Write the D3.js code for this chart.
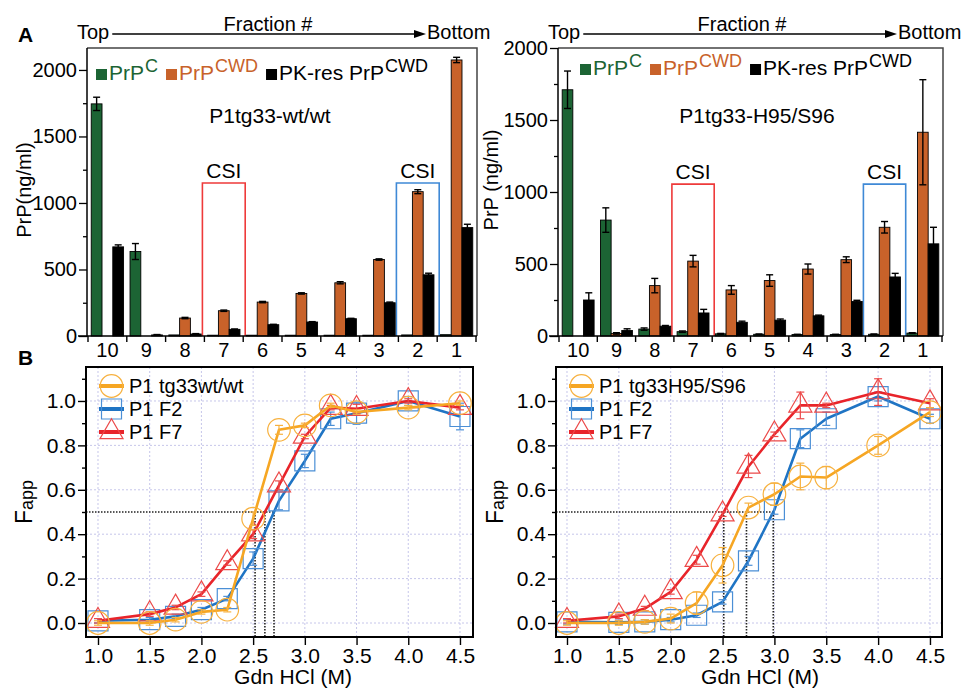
<!DOCTYPE html>
<html>
<head>
<meta charset="utf-8">
<script src="https://cdn.jsdelivr.net/npm/d3@7"></script>
<style>
  body { margin: 0; background: #fff; }
  svg { display: block; font-family: "Liberation Sans", Arial, Helvetica, sans-serif; }
</style>
</head>
<body>
<svg id="fig" width="964" height="688"></svg>
<script>
// ---- Panel A data (PrP ng/ml per fraction, top -> bottom) ----
const fractions = ["10", "9", "8", "7", "6", "5", "4", "3", "2", "1"];
const barTicks = [0, 500, 1000, 1500, 2000];
const barMinorTicks = [250, 750, 1250, 1750];

const wtPrPC      = [1745, 635, 8, 6, 6, 6, 6, 6, 8, 10];
const wtPrPCWD    = [0, 0, 135, 190, 255, 320, 400, 575, 1085, 2075];
const wtPKres     = [670, 8, 15, 50, 85, 105, 130, 250, 460, 815];
const wtPrPCErr   = [50, 60, 0, 0, 0, 0, 0, 0, 0, 0];
const wtPrPCWDErr = [0, 0, 5, 5, 5, 5, 8, 5, 15, 20];
const wtPKresErr  = [15, 3, 3, 3, 3, 3, 3, 5, 12, 25];

const hsPrPC      = [1710, 805, 48, 30, 15, 12, 10, 10, 12, 20];
const hsPrPCWD    = [0, 18, 350, 520, 320, 385, 465, 530, 755, 1415];
const hsPKres     = [250, 38, 68, 160, 95, 110, 140, 240, 410, 640];
const hsPrPCErr   = [130, 85, 8, 5, 3, 2, 2, 2, 2, 3];
const hsPrPCWDErr = [0, 5, 50, 40, 30, 40, 35, 20, 40, 365];
const hsPKresErr  = [50, 12, 5, 25, 8, 8, 5, 8, 25, 115];

const csiFractions = ["7", "2"];

// ---- Panel B data (Fapp vs GdnHCl) ----
const gdn = [1.0, 1.5, 1.75, 2.0, 2.25, 2.5, 2.75, 3.0, 3.25, 3.5, 4.0, 4.5];
const gdnTicks = [1.0, 1.5, 2.0, 2.5, 3.0, 3.5, 4.0, 4.5];
const fappTicks = [0, 0.2, 0.4, 0.6, 0.8, 1.0];
const fappMinorTicks = [0.1, 0.3, 0.5, 0.7, 0.9, 1.1];

const wtFapp     = [0.0, 0.0, 0.015, 0.05, 0.06, 0.47, 0.87, 0.89, 0.98, 0.95, 0.97, 0.99];
const wtF2Fapp   = [0.01, 0.015, 0.03, 0.06, 0.11, 0.29, 0.55, 0.73, 0.92, 0.945, 1.0, 0.93];
const wtF7Fapp   = [0.01, 0.04, 0.07, 0.13, 0.27, 0.40, 0.62, 0.84, 0.97, 0.965, 1.0, 0.97];
const wtFappErr  = [0.01, 0.01, 0.01, 0.01, 0.01, 0.03, 0.02, 0.01, 0.01, 0.01, 0.01, 0.01];
const wtF2Err    = [0.01, 0.01, 0.01, 0.01, 0.01, 0.03, 0.04, 0.03, 0.03, 0.05, 0.02, 0.06];
const wtF7Err    = [0.01, 0.01, 0.01, 0.01, 0.01, 0.02, 0.02, 0.01, 0.01, 0.02, 0.01, 0.01];

const hsFapp     = [0.0, 0.0, 0.005, 0.02, 0.09, 0.26, 0.52, 0.58, 0.66, 0.655, 0.80, 0.95];
const hsF2Fapp   = [0.005, 0.003, 0.005, 0.015, 0.035, 0.095, 0.28, 0.51, 0.83, 0.92, 1.02, 0.92];
const hsF7Fapp   = [0.01, 0.03, 0.065, 0.14, 0.285, 0.49, 0.705, 0.85, 0.98, 0.98, 1.04, 0.99];
const hsFappErr  = [0.01, 0.01, 0.01, 0.02, 0.05, 0.08, 0.02, 0.05, 0.06, 0.05, 0.04, 0.02];
const hsF2Err    = [0.01, 0.01, 0.01, 0.01, 0.01, 0.01, 0.02, 0.02, 0.04, 0.03, 0.02, 0.02];
const hsF7Err    = [0.01, 0.01, 0.01, 0.01, 0.02, 0.01, 0.05, 0.01, 0.06, 0.01, 0.06, 0.02];

// colours
const green = "#1c6434", orange = "#c8622a";
const csiColors = ["#ee3a3a", "#3f89d6"];
const lineColors = { wt: "#f6a623", f2: "#1f74c4", f7: "#e8242a" };
const markColors = { wt: "#f7b13f", f2: "#4b8fd6", f7: "#ec4a4a" };

const svg = d3.select("#fig");

// ---------- header with arrow ----------
function header(xTop, xBottom, xCenter) {
    const g = svg.append("g").attr("font-size", 20);
    const t = g.append("text").attr("x", xTop).attr("y", 39).text("Top");
    const x1 = xTop + t.node().getComputedTextLength() + 3;
    g.append("text").attr("x", xBottom).attr("y", 39).text("Bottom");
    g.append("line").attr("x1", x1).attr("x2", xBottom - 10).attr("y1", 34).attr("y2", 34)
        .attr("stroke", "#000").attr("stroke-width", 1.6);
    g.append("path").attr("d", `M${xBottom - 1},34 L${xBottom - 13},30 L${xBottom - 13},38 Z`).attr("fill", "#000");
    g.append("text").attr("x", xCenter).attr("y", 31).attr("text-anchor", "middle").text("Fraction #");
}

// ---------- bar panel ----------
function barPanel(cfg) {
    const g = svg.append("g");
    const x = d3.scaleBand().domain(fractions).range([cfg.x0 + 1, cfg.x1 - 1]).padding(0);
    const keys = ["c", "cwd", "pk"];
    const sub = d3.scaleBand().domain(keys).range([0, x.bandwidth()]).paddingInner(0).paddingOuter(0.3);
    const y = d3.scaleLinear().domain([0, cfg.yMax]).range([cfg.yBot, cfg.yTop]);

    // frame
    g.append("path").attr("d", `M${cfg.x0},${cfg.yTop} H${cfg.x1} V${cfg.yBot}`)
        .attr("fill", "none").attr("stroke", "#444").attr("stroke-width", 1.5);

    // CSI boxes
    csiFractions.forEach((f, i) => {
        const bx0 = x(f) - 2, bx1 = x(f) + x.bandwidth() + 2, top = y(cfg.csiTop);
        g.append("path").attr("d", `M${bx0},${cfg.yBot} V${top} H${bx1} V${cfg.yBot}`)
            .attr("fill", "none").attr("stroke", csiColors[i]).attr("stroke-width", 1.6);
        g.append("text").attr("x", (bx0 + bx1) / 2).attr("y", top - 5).attr("text-anchor", "middle")
            .attr("font-size", 21).text("CSI");
    });

    const series = [
        { key: "c", vals: cfg.c, err: cfg.cErr, color: green },
        { key: "cwd", vals: cfg.cwd, err: cfg.cwdErr, color: orange },
        { key: "pk", vals: cfg.pk, err: cfg.pkErr, color: "#000" }
    ];
    series.forEach(s => {
        const rows = fractions.map((f, i) => ({ f, v: s.vals[i], e: s.err[i] }));
        g.append("g").selectAll("rect").data(rows.filter(d => d.v > 0)).enter().append("rect")
            .attr("x", d => x(d.f) + sub(s.key))
            .attr("y", d => y(d.v))
            .attr("width", sub.bandwidth())
            .attr("height", d => Math.max(0, y(0) - y(d.v)))
            .attr("fill", s.color).attr("stroke", "#000").attr("stroke-width", 0.9);
        const eb = g.append("g").attr("stroke", "#000").attr("stroke-width", 1.4);
        rows.filter(d => d.e > 0).forEach(d => {
            const cx = x(d.f) + sub(s.key) + sub.bandwidth() / 2;
            eb.append("line").attr("x1", cx).attr("x2", cx).attr("y1", y(d.v + d.e)).attr("y2", y(Math.max(0, d.v - d.e)));
            eb.append("line").attr("x1", cx - 3.5).attr("x2", cx + 3.5).attr("y1", y(d.v + d.e)).attr("y2", y(d.v + d.e));
            eb.append("line").attr("x1", cx - 3.5).attr("x2", cx + 3.5).attr("y1", y(Math.max(0, d.v - d.e))).attr("y2", y(Math.max(0, d.v - d.e)));
        });
    });

    // y axis
    const ya = g.append("g").attr("transform", `translate(${cfg.x0},0)`)
        .call(d3.axisLeft(y).tickValues(barTicks).tickSize(8).tickPadding(2).tickFormat(d3.format("d")));
    ya.select(".domain").remove();
    ya.selectAll("text").attr("font-size", 20).attr("font-family", null).attr("fill", "#000");
    ya.selectAll("line").attr("stroke-width", 1.3);
    const ym = g.append("g").attr("transform", `translate(${cfg.x0},0)`)
        .call(d3.axisLeft(y).tickValues(barMinorTicks).tickSize(4).tickFormat(""));
    ym.select(".domain").remove();
    ym.selectAll("line").attr("stroke-width", 1.3);
    g.append("line").attr("x1", cfg.x0).attr("x2", cfg.x0).attr("y1", cfg.yTop).attr("y2", cfg.yBot + 1)
        .attr("stroke", "#000").attr("stroke-width", 1.5);

    // x axis (labels centred in bands, ticks at band edges)
    const xa = g.append("g").attr("transform", `translate(0,${cfg.yBot})`)
        .call(d3.axisBottom(x).tickSize(0).tickPadding(7));
    xa.select(".domain").remove();
    xa.selectAll("text").attr("font-size", 20).attr("font-family", null).attr("fill", "#000");
    g.append("line").attr("x1", cfg.x0 - 9).attr("x2", cfg.x1).attr("y1", cfg.yBot).attr("y2", cfg.yBot)
        .attr("stroke", "#000").attr("stroke-width", 1.5);
    const edges = fractions.map(f => x(f)).concat([x(fractions[fractions.length - 1]) + x.bandwidth()]);
    g.append("g").selectAll("line").data(edges).enter().append("line")
        .attr("x1", d => d).attr("x2", d => d).attr("y1", cfg.yBot).attr("y2", cfg.yBot + 6)
        .attr("stroke", "#000").attr("stroke-width", 1.4);

    // y label
    g.append("text").attr("transform", `translate(${cfg.ylabelX},${cfg.ylabelY}) rotate(-90)`)
        .attr("text-anchor", "middle").attr("font-size", 20).text(cfg.ylabel);

    // title
    g.append("text").attr("x", cfg.titleX).attr("y", 123).attr("text-anchor", "middle")
        .attr("font-size", 21).text(cfg.title);

    // legend
    const items = [
        { color: green, main: "PrP", sup: "C" },
        { color: orange, main: "PrP", sup: "CWD" },
        { color: "#000", main: "PK-res PrP", sup: "CWD" }
    ];
    let cx = cfg.legendX;
    const ly = cfg.legendY;
    items.forEach(it => {
        g.append("rect").attr("x", cx).attr("y", ly - 11).attr("width", 11).attr("height", 11).attr("fill", it.color);
        cx += 13;
        const t = g.append("text").attr("x", cx).attr("y", ly).attr("font-size", 21).attr("fill", it.color).text(it.main);
        cx += t.node().getComputedTextLength() + 1;
        const s = g.append("text").attr("x", cx).attr("y", ly - 8).attr("font-size", 18).attr("fill", it.color).text(it.sup);
        cx += s.node().getComputedTextLength() + 8;
    });
}

// ---------- Fapp panel ----------
function crossing(xs, vs, level) {
    for (let i = 0; i < vs.length - 1; i++) {
        if (vs[i] < level && vs[i + 1] >= level) {
            return xs[i] + (xs[i + 1] - xs[i]) * (level - vs[i]) / (vs[i + 1] - vs[i]);
        }
    }
    return null;
}

function fappPanel(cfg) {
    const g = svg.append("g");
    const x = d3.scaleLinear().domain(cfg.xDom).range([cfg.x0, cfg.x1]);
    const y = d3.scaleLinear().domain([-0.063, 1.153]).range([cfg.yBot, cfg.yTop]);

    // grid
    const grid = g.append("g").attr("stroke", "#c6c6ea").attr("stroke-width", 1).attr("stroke-dasharray", "2,2");
    gdnTicks.forEach(t => grid.append("line").attr("x1", x(t)).attr("x2", x(t)).attr("y1", cfg.yTop).attr("y2", cfg.yBot));
    fappTicks.forEach(t => grid.append("line").attr("x1", cfg.x0).attr("x2", cfg.x1).attr("y1", y(t)).attr("y2", y(t)));

    const series = [
        { key: "f2", vals: cfg.f2, err: cfg.f2Err, sym: d3.symbolSquare, size: 400, name: "P1 F2" },
        { key: "f7", vals: cfg.f7, err: cfg.f7Err, sym: d3.symbolTriangle, size: 230, name: "P1 F7" },
        { key: "wt", vals: cfg.wt, err: cfg.wtErr, sym: d3.symbolCircle, size: 400, name: cfg.wtName }
    ];

    // 0.5 crossing guides
    const xs = series.map(s => crossing(gdn, s.vals, 0.5)).filter(v => v !== null);
    const guide = g.append("g").attr("stroke", "#222").attr("stroke-width", 1.6).attr("stroke-dasharray", "1.5,1.5");
    guide.append("line").attr("x1", cfg.x0).attr("x2", x(d3.max(xs))).attr("y1", y(0.5)).attr("y2", y(0.5));
    xs.forEach(v => guide.append("line").attr("x1", x(v)).attr("x2", x(v)).attr("y1", y(0.5)).attr("y2", cfg.yBot));

    const line = d3.line().x((d, i) => x(gdn[i])).y(d => y(d));
    series.forEach(s => {
        g.append("path").datum(s.vals).attr("d", line).attr("fill", "none")
            .attr("stroke", lineColors[s.key]).attr("stroke-width", 2.6).attr("stroke-linejoin", "round");
        const eb = g.append("g").attr("stroke", markColors[s.key]).attr("stroke-width", 1.2);
        s.vals.forEach((v, i) => {
            const cx = x(gdn[i]), e = s.err[i];
            eb.append("line").attr("x1", cx).attr("x2", cx).attr("y1", y(v + e)).attr("y2", y(v - e));
            eb.append("line").attr("x1", cx - 4).attr("x2", cx + 4).attr("y1", y(v + e)).attr("y2", y(v + e));
            eb.append("line").attr("x1", cx - 4).attr("x2", cx + 4).attr("y1", y(v - e)).attr("y2", y(v - e));
        });
        g.append("g").selectAll("path").data(s.vals).enter().append("path")
            .attr("transform", (d, i) => `translate(${x(gdn[i])},${y(d)})`)
            .attr("d", d3.symbol().type(s.sym).size(s.size))
            .attr("fill", "none").attr("stroke", markColors[s.key]).attr("stroke-width", 1.2);
    });

    // frame
    g.append("rect").attr("x", cfg.x0).attr("y", cfg.yTop).attr("width", cfg.x1 - cfg.x0).attr("height", cfg.yBot - cfg.yTop)
        .attr("fill", "none").attr("stroke", "#000").attr("stroke-width", 2);

    // axes
    const ya = g.append("g").attr("transform", `translate(${cfg.x0},0)`)
        .call(d3.axisLeft(y).tickValues(fappTicks).tickSize(8).tickPadding(2).tickFormat(d3.format(".1f")));
    ya.select(".domain").remove();
    ya.selectAll("text").attr("font-size", 21).attr("font-family", null).attr("fill", "#000");
    ya.selectAll("line").attr("stroke-width", 1.4);
    const ym = g.append("g").attr("transform", `translate(${cfg.x0},0)`)
        .call(d3.axisLeft(y).tickValues(fappMinorTicks).tickSize(4).tickFormat(""));
    ym.select(".domain").remove();
    ym.selectAll("line").attr("stroke-width", 1.4);
    const xa = g.append("g").attr("transform", `translate(0,${cfg.yBot})`)
        .call(d3.axisBottom(x).tickValues(gdnTicks).tickSize(8).tickPadding(3).tickFormat(d3.format(".1f")));
    xa.select(".domain").remove();
    xa.selectAll("text").attr("font-size", 21).attr("font-family", null).attr("fill", "#000");
    xa.selectAll("line").attr("stroke-width", 1.4);

    // labels
    g.append("text").attr("x", cfg.labelX).attr("y", 684).attr("text-anchor", "middle")
        .attr("font-size", 21).text("Gdn HCl (M)");
    const fl = g.append("text").attr("transform", `translate(${cfg.fappX},${(cfg.yTop + cfg.yBot) / 2}) rotate(-90)`)
        .attr("text-anchor", "middle");
    fl.append("tspan").attr("font-size", 23).text("F");
    fl.append("tspan").attr("font-size", 18).attr("dy", 1).text("app");

    // legend (wt first)
    const order = [series[2], series[0], series[1]];
    const rowsY = [386, 409, 432];
    order.forEach((s, i) => {
        const ry = rowsY[i], lx = cfg.x0 + 13;
        g.append("line").attr("x1", lx).attr("x2", lx + 25).attr("y1", ry).attr("y2", ry)
            .attr("stroke", lineColors[s.key]).attr("stroke-width", 4);
        g.append("path").attr("transform", `translate(${lx + 12.5},${ry})`)
            .attr("d", d3.symbol().type(s.sym).size(s.size))
            .attr("fill", "none").attr("stroke", markColors[s.key]).attr("stroke-width", 1.2);
        g.append("text").attr("x", cfg.x0 + 43).attr("y", ry + 7).attr("font-size", 20).text(s.name);
    });
}

// ---------- draw ----------
svg.append("text").attr("x", 18).attr("y", 42).attr("font-size", 21).attr("font-weight", "bold").text("A");
svg.append("text").attr("x", 18).attr("y", 365).attr("font-size", 21).attr("font-weight", "bold").text("B");

header(77, 427, 268);
header(548, 898, 742);

barPanel({
    x0: 87, x1: 477, yTop: 48, yBot: 336, yMax: 2165,
    c: wtPrPC, cwd: wtPrPCWD, pk: wtPKres, cErr: wtPrPCErr, cwdErr: wtPrPCWDErr, pkErr: wtPKresErr,
    csiTop: 1150, title: "P1tg33-wt/wt", titleX: 270,
    legendX: 96, legendY: 80, ylabel: "PrP(ng/ml)", ylabelX: 31, ylabelY: 190
});
barPanel({
    x0: 558, x1: 943, yTop: 48, yBot: 336, yMax: 2000,
    c: hsPrPC, cwd: hsPrPCWD, pk: hsPKres, cErr: hsPrPCErr, cwdErr: hsPrPCWDErr, pkErr: hsPKresErr,
    csiTop: 1055, title: "P1tg33-H95/S96", titleX: 757,
    legendX: 580, legendY: 75, ylabel: "PrP (ng/ml)", ylabelX: 498, ylabelY: 180
});

fappPanel({
    x0: 86, x1: 473, yTop: 367, yBot: 637, xDom: [0.884, 4.626],
    wt: wtFapp, f2: wtF2Fapp, f7: wtF7Fapp, wtErr: wtFappErr, f2Err: wtF2Err, f7Err: wtF7Err,
    wtName: "P1 tg33wt/wt", labelX: 293, fappX: 32
});
fappPanel({
    x0: 556, x1: 942, yTop: 367, yBot: 637, xDom: [0.894, 4.616],
    wt: hsFapp, f2: hsF2Fapp, f7: hsF7Fapp, wtErr: hsFappErr, f2Err: hsF2Err, f7Err: hsF7Err,
    wtName: "P1 tg33H95/S96", labelX: 760, fappX: 503
});
</script>
</body>
</html>
